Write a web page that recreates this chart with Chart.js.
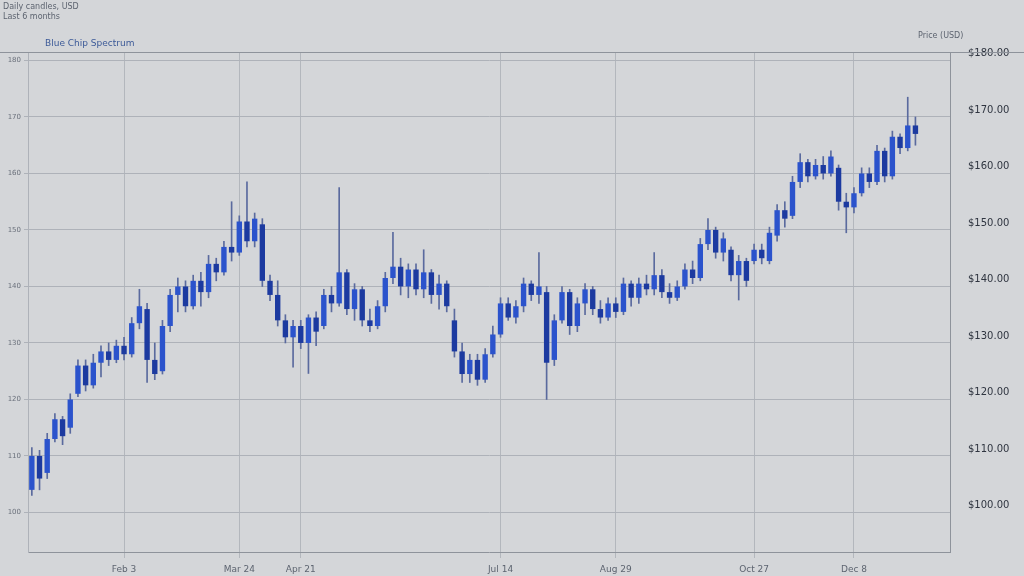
<!DOCTYPE html>
<html lang="en">
<head>
    <meta charset="UTF-8">
    <title>Blue Chip Spectrum</title>
    <script src="https://cdn.jsdelivr.net/npm/chart.js"></script>
    <style>
        html, body { margin: 0; padding: 0; background: #d4d6d9; }
        #wrap { width: 1024px; height: 576px; position: relative; }
    </style>
</head>
<body>
<div id="wrap"><canvas id="chart" width="1024" height="576"></canvas></div>
<script>
    // Candles (open, close, high, low)
    const opens = [
        104, 110, 107, 113, 116.5, 115, 121, 126, 122.5, 126.5, 128.5, 127, 129.5, 128, 133.5, 136, 127, 125, 133, 138.5,
        140, 136.5, 141, 139, 144, 142.5, 147, 146, 151.5, 148, 151, 141, 138.5, 134, 131, 133, 130, 134.5, 133, 138.5,
        137, 142.5, 136, 139.5, 134, 133, 136.5, 141.5, 143.5, 140, 143, 139.5, 142.5, 138.5, 140.5, 134, 128.5, 124.5, 127, 123.5,
        128, 131.5, 137, 134.5, 136.5, 140.5, 138.5, 139, 127, 134, 139, 133, 137, 139.5, 136, 134.5, 137, 135.5, 140.5, 138,
        140.5, 139.5, 142, 139, 138, 140, 143, 141.5, 147.5, 150, 146, 146.5, 142, 144.5, 144.5, 146.5, 144.5, 149, 153.5, 152.5,
        158.5, 162, 159.5, 161.5, 160, 161, 155, 154, 156.5, 160, 158.5, 164, 159.5, 166.5, 164.5, 168.5
    ];
    const closes = [
        110, 106, 113, 116.5, 113.5, 120, 126, 122.5, 126.5, 128.5, 127, 129.5, 128, 133.5, 136.5, 127, 124.5, 133, 138.5, 140,
        136.5, 141, 139, 144, 142.5, 147, 146, 151.5, 148, 152, 141, 138.5, 134, 131, 133, 130, 134.5, 132, 138.5, 137,
        142.5, 136, 139.5, 134, 133, 136.5, 141.5, 143.5, 140, 143, 139.5, 142.5, 138.5, 140.5, 136.5, 128.5, 124.5, 127, 123.5, 128,
        131.5, 137, 134.5, 136.5, 140.5, 138.5, 140, 126.5, 134, 139, 133, 137, 139.5, 136, 134.5, 137, 135.5, 140.5, 138, 140.5,
        139.5, 142, 139, 138, 140, 143, 141.5, 147.5, 150, 146, 148.5, 142, 144.5, 141, 146.5, 145, 149.5, 153.5, 152, 158.5,
        162, 159.5, 161.5, 160, 163, 155, 154, 156.5, 160, 158.5, 164, 159.5, 166.5, 164.5, 168.5, 167
    ];
    const highs = [
        111.5, 111, 114, 117.5, 117, 121, 127, 127, 128, 129.5, 130, 130.5, 131, 134.5, 139.5, 137, 130, 134, 139.5, 141.5,
        141, 142, 142.5, 145.5, 145, 148, 155, 152.5, 158.5, 153, 152, 142, 141, 135, 134, 134, 135, 135.5, 139.5, 140,
        157.5, 143, 140.5, 140, 136, 137.5, 142.5, 149.6, 145, 144, 144, 146.5, 143, 142, 141, 136, 130, 128, 128, 129,
        133, 138, 138, 137.5, 141.5, 141, 146, 140, 135, 140, 139.5, 138, 140.5, 140, 137.5, 138, 138, 141.5, 141, 141.5,
        142, 146, 143, 140.5, 141, 144, 144.5, 148.5, 152, 150.5, 149.5, 147, 145.5, 145, 147.5, 147.5, 150.5, 154.5, 155, 159.5,
        163.5, 162.5, 162.5, 163, 164, 161.5, 156.5, 157.5, 161, 161, 165, 164.5, 167.5, 167, 173.5, 170
    ];
    const lows = [
        103, 104, 106, 112.5, 112, 114, 120.5, 121.5, 122, 124, 126, 126.5, 127, 127.5, 132.5, 123, 123.5, 124.5, 132, 135.5,
        135.5, 136, 136.5, 138, 141, 142, 144.5, 145.5, 147, 147, 140, 137.5, 133, 130, 125.7, 129, 124.6, 129.5, 132.5, 135.5,
        136.5, 135, 134, 133, 132, 132.5, 135.5, 140.5, 138.5, 138, 138.5, 138, 137, 136, 135.5, 127.5, 123, 123, 122.5, 123,
        127.5, 131, 134, 133.5, 135.5, 137.5, 137, 120, 126, 133.5, 131.5, 132, 135, 135, 133.5, 134, 134.5, 135, 136.5, 137,
        138.5, 138.5, 138, 137, 137.5, 139.5, 140.5, 141, 146.5, 145, 144.5, 141, 137.6, 140, 144, 144, 144, 148, 150.5, 152,
        157.5, 158.5, 159, 159, 159.5, 153.5, 149.5, 153, 156, 157.5, 158, 158.5, 159, 163.5, 164, 165
    ];

    // axes
    const yTicks = [100, 110, 120, 130, 140, 150, 160, 170, 180];
    const yLabelsLeft = ['100', '110', '120', '130', '140', '150', '160', '170', '180'];
    const yLabelsRight = ['$100.00', '$110.00', '$120.00', '$130.00', '$140.00', '$150.00', '$160.00', '$170.00', '$180.00'];
    const xTickPos = [12, 27, 35, 61, 76, 94, 107];
    const xTickLabels = ['Feb 3', 'Mar 24', 'Apr 21', 'Jul 14', 'Aug 29', 'Oct 27', 'Dec 8'];

    const upColor = '#2b53cc';
    const downColor = '#1c3aa0';
    const wickColor = '#5a6a9e';

    const bodies = opens.map((o, i) => ({ x: i, y: [o, closes[i]] }));
    const wicks = lows.map((l, i) => ({ x: i, y: [l, highs[i]] }));
    const bodyColors = opens.map((o, i) => closes[i] >= o ? upColor : downColor);

    const decor = {
        id: 'decor',
        beforeDraw(chart) {
            const c = chart.ctx;
            c.save();
            c.fillStyle = '#d4d6d9';
            c.fillRect(0, 0, chart.width, chart.height);
            c.restore();
        },
        afterDraw(chart) {
            const c = chart.ctx;
            const a = chart.chartArea;
            c.save();
            c.strokeStyle = '#8e939b';
            c.lineWidth = 1;
            c.beginPath();
            c.moveTo(0, a.top + 0.5);
            c.lineTo(chart.width, a.top + 0.5);
            c.stroke();
            c.font = '8px "DejaVu Sans"';
            c.fillStyle = '#5d6470';
            c.fillText('Daily candles, USD', 3, 9);
            c.fillText('Last 6 months', 3, 19);
            c.font = '9px "DejaVu Sans"';
            c.fillStyle = '#3c5a98';
            c.fillText('Blue Chip Spectrum', 45, 46);
            c.fillStyle = '#5d6470';
            c.font = '8px "DejaVu Sans"';
            c.fillText('Price (USD)', 918, 38);
            c.restore();
        }
    };

    new Chart(document.getElementById('chart'), {
        type: 'bar',
        data: {
            datasets: [
                {
                    label: 'Body',
                    data: bodies,
                    backgroundColor: bodyColors,
                    borderWidth: 0,
                    grouped: false,
                    barPercentage: 0.7,
                    categoryPercentage: 1,
                    order: 1
                },
                {
                    label: 'Wick',
                    data: wicks,
                    backgroundColor: wickColor,
                    borderWidth: 0,
                    grouped: false,
                    barThickness: 1,
                    order: 2
                }
            ]
        },
        options: {
            responsive: false,
            animation: false,
            layout: { padding: { top: 52 } },
            plugins: { legend: { display: false }, tooltip: { enabled: false } },
            scales: {
                x: {
                    type: 'linear',
                    min: -0.5,
                    max: 119.5,
                    offset: false,
                    afterBuildTicks: s => { s.ticks = xTickPos.map(v => ({ value: v })); },
                    ticks: {
                        callback: (v, i) => xTickLabels[i],
                        font: { family: 'DejaVu Sans', size: 9 },
                        color: '#5d6470',
                        maxRotation: 0,
                        padding: 6
                    },
                    grid: { color: '#b3b7bd', tickLength: 6, offset: false },
                    border: { color: '#8e939b' },
                    afterFit: s => { s.height = 24; }
                },
                y: {
                    position: 'left',
                    min: 93,
                    max: 181.5,
                    afterBuildTicks: s => { s.ticks = yTicks.map(v => ({ value: v })); },
                    ticks: {
                        callback: (v, i) => yLabelsLeft[i],
                        font: { family: 'DejaVu Sans', size: 7 },
                        color: '#6a707b',
                        padding: 3
                    },
                    grid: { color: '#aeb2b9', tickLength: 4 },
                    border: { color: '#aeb2b9' },
                    afterFit: s => { s.width = 28; }
                },
                y2: {
                    position: 'right',
                    min: 93,
                    max: 181.5,
                    afterBuildTicks: s => { s.ticks = yTicks.map(v => ({ value: v })); },
                    ticks: {
                        callback: (v, i) => yLabelsRight[i],
                        font: { family: 'DejaVu Sans', size: 10 },
                        color: '#2f3540',
                        padding: 10,
                        labelOffset: -7
                    },
                    grid: { display: false },
                    border: { color: '#8e939b' },
                    afterFit: s => { s.width = 74; }
                }
            }
        },
        plugins: [decor]
    });
</script>
</body>
</html>
